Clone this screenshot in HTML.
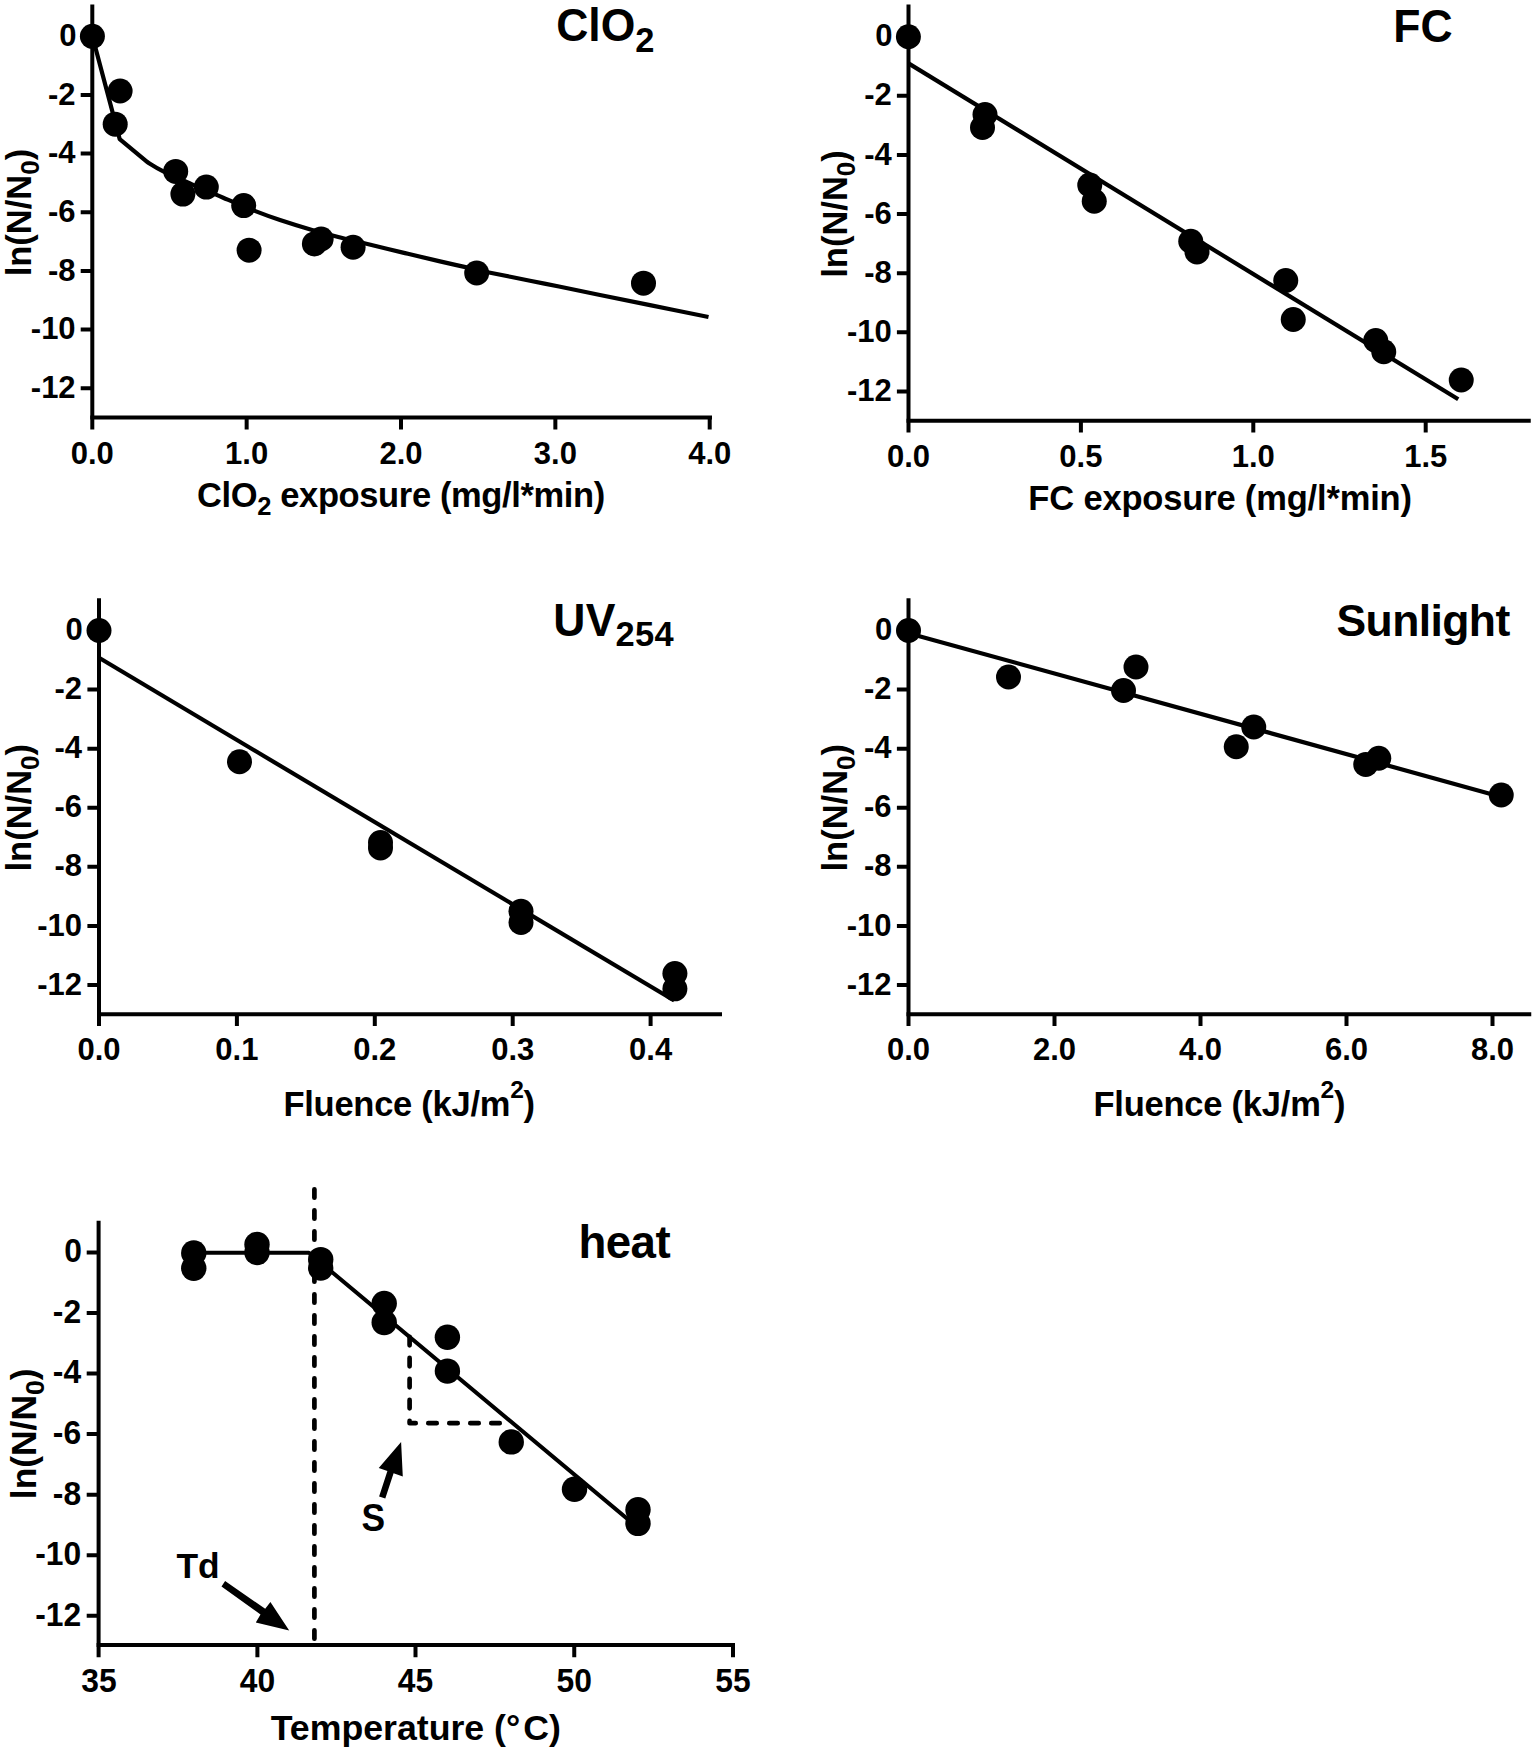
<!DOCTYPE html>
<html lang="en"><head><meta charset="utf-8"><title>Inactivation kinetics</title>
<style>html,body{margin:0;padding:0;background:#fff}svg{display:block}text{font-family:"Liberation Sans", Arial, Helvetica, sans-serif;font-weight:bold;fill:#000}.ax{stroke:#000;stroke-width:4;fill:none;stroke-linecap:butt}.fit{stroke:#000;stroke-width:4.2;fill:none;stroke-linejoin:round}.dash{stroke:#000;stroke-width:4.7;fill:none;stroke-linecap:round;stroke-linejoin:round;stroke-dasharray:8.4 12.6}.pt{fill:#000}</style></head><body>
<svg width="1536" height="1753" viewBox="0 0 1536 1753">
<rect width="1536" height="1753" fill="#fff"/>
<g id="p1">
<path class="ax" d="M92.3 4.5 V429.4"/>
<path class="ax" d="M90.3 417.6 H712"/>
<path class="ax" d="M80.7 36.3 H92.3M80.7 94.96 H92.3M80.7 153.62 H92.3M80.7 212.28 H92.3M80.7 270.94 H92.3M80.7 329.6 H92.3M80.7 388.26 H92.3M246.65 417.6 V429.4M401 417.6 V429.4M555.35 417.6 V429.4M709.7 417.6 V429.4"/>
<g font-size="31" text-anchor="end">
<text transform="translate(76.4 45.9) scale(1 1.04)">0</text>
<text transform="translate(75.6 104.56) scale(1 1.04)">-2</text>
<text transform="translate(75.6 163.22) scale(1 1.04)">-4</text>
<text transform="translate(75.6 221.88) scale(1 1.04)">-6</text>
<text transform="translate(75.6 280.54) scale(1 1.04)">-8</text>
<text transform="translate(75.6 339.2) scale(1 1.04)">-10</text>
<text transform="translate(75.6 397.86) scale(1 1.04)">-12</text>
</g>
<g font-size="31" text-anchor="middle">
<text transform="translate(92.3 463.7) scale(1 1.04)">0.0</text>
<text transform="translate(246.65 463.7) scale(1 1.04)">1.0</text>
<text transform="translate(401 463.7) scale(1 1.04)">2.0</text>
<text transform="translate(555.35 463.7) scale(1 1.04)">3.0</text>
<text transform="translate(709.7 463.7) scale(1 1.04)">4.0</text>
</g>
<text font-size="44.5" letter-spacing="0" transform="translate(556.2 41.3) scale(1 1.035)">ClO<tspan font-size="34.5" dy="10">2</tspan></text>
<text font-size="34.5" letter-spacing="-0.37" text-anchor="middle" x="400.95" y="506.7">ClO<tspan font-size="25.5" dy="8">2</tspan><tspan dy="-8"> exposure (mg/l*min)</tspan></text>
<text font-size="34.5" text-anchor="middle" transform="translate(30.7 212.6) rotate(-90)">ln(N/N<tspan font-size="26" dy="8">0</tspan><tspan dy="-8">)</tspan></text>
<path class="fit" d="M92.4 36.3 L119.7 139.1 L147.1 161.9 C149.8 163.48 155.82 167.67 163.3 171.4 C170.78 175.13 182.02 179.92 192 184.3 C201.98 188.68 212.63 193.23 223.2 197.7 C233.77 202.17 245.93 207.38 255.4 211.1 C264.87 214.82 270.69 216.9 280 220 C289.31 223.1 301.53 226.87 311.25 229.7 C320.97 232.53 329.28 234.7 338.3 237 C347.32 239.3 354.28 240.82 365.4 243.5 C376.52 246.18 392.57 250.12 405 253.1 C417.43 256.08 430.1 259.1 440 261.4 C449.9 263.7 456.23 265.05 464.4 266.9 C472.57 268.75 478.07 270.2 489 272.5 C499.93 274.8 518.33 278.37 530 280.7 C541.67 283.03 547.33 284.12 559 286.5 C570.67 288.88 584.83 291.9 600 295 C615.17 298.1 631.92 301.43 650 305.1 C668.08 308.77 698.75 315.02 708.5 317"/>
<g class="pt"><circle cx="92.4" cy="36.3" r="12.5"/><circle cx="120.1" cy="91" r="12.5"/><circle cx="115.2" cy="124.2" r="12.5"/><circle cx="175.7" cy="171.4" r="12.5"/><circle cx="182.9" cy="194.1" r="12.5"/><circle cx="206.3" cy="187.1" r="12.5"/><circle cx="243.7" cy="205.6" r="12.5"/><circle cx="249.1" cy="250.2" r="12.5"/><circle cx="314.4" cy="243.9" r="12.5"/><circle cx="321.15" cy="239" r="12.5"/><circle cx="353.1" cy="247.25" r="12.5"/><circle cx="476.7" cy="273" r="12.5"/><circle cx="643.5" cy="283.2" r="12.5"/></g>
</g>
<g id="p2">
<path class="ax" d="M908.5 4.5 V432.6"/>
<path class="ax" d="M906.5 420.8 H1530.75"/>
<path class="ax" d="M896.9 36.75 H908.5M896.9 95.87 H908.5M896.9 154.99 H908.5M896.9 214.11 H908.5M896.9 273.23 H908.5M896.9 332.35 H908.5M896.9 391.47 H908.5M1080.9 420.8 V432.6M1253.3 420.8 V432.6M1425.7 420.8 V432.6"/>
<g font-size="31" text-anchor="end">
<text transform="translate(892.6 46.35) scale(1 1.04)">0</text>
<text transform="translate(891.8 105.47) scale(1 1.04)">-2</text>
<text transform="translate(891.8 164.59) scale(1 1.04)">-4</text>
<text transform="translate(891.8 223.71) scale(1 1.04)">-6</text>
<text transform="translate(891.8 282.83) scale(1 1.04)">-8</text>
<text transform="translate(891.8 341.95) scale(1 1.04)">-10</text>
<text transform="translate(891.8 401.07) scale(1 1.04)">-12</text>
</g>
<g font-size="31" text-anchor="middle">
<text transform="translate(908.5 466.9) scale(1 1.04)">0.0</text>
<text transform="translate(1080.9 466.9) scale(1 1.04)">0.5</text>
<text transform="translate(1253.3 466.9) scale(1 1.04)">1.0</text>
<text transform="translate(1425.7 466.9) scale(1 1.04)">1.5</text>
</g>
<text font-size="44.5" letter-spacing="0" transform="translate(1393.3 42) scale(1 1.035)">FC</text>
<text font-size="34.5" letter-spacing="-0.17" text-anchor="middle" x="1220.1" y="509.9">FC exposure (mg/l*min)</text>
<text font-size="34.5" text-anchor="middle" transform="translate(846.85 214) rotate(-90)">ln(N/N<tspan font-size="26" dy="8">0</tspan><tspan dy="-8">)</tspan></text>
<path class="fit" d="M908.5 63.4 L1458.25 399.25"/>
<g class="pt"><circle cx="908.4" cy="36.75" r="12.5"/><circle cx="985" cy="114.5" r="12.5"/><circle cx="982.5" cy="127.5" r="12.5"/><circle cx="1089.75" cy="185" r="12.5"/><circle cx="1094.25" cy="201.25" r="12.5"/><circle cx="1190.75" cy="241.25" r="12.5"/><circle cx="1197" cy="252" r="12.5"/><circle cx="1285.75" cy="280.5" r="12.5"/><circle cx="1293.25" cy="319.5" r="12.5"/><circle cx="1375.75" cy="340.5" r="12.5"/><circle cx="1383.75" cy="351.75" r="12.5"/><circle cx="1461.25" cy="380" r="12.5"/></g>
</g>
<g id="p3">
<path class="ax" d="M99 598.25 V1026.05"/>
<path class="ax" d="M97 1014.25 H722"/>
<path class="ax" d="M87.4 630.5 H99M87.4 689.58 H99M87.4 748.66 H99M87.4 807.74 H99M87.4 866.82 H99M87.4 925.9 H99M87.4 984.98 H99M236.9 1014.25 V1026.05M374.8 1014.25 V1026.05M512.7 1014.25 V1026.05M650.6 1014.25 V1026.05"/>
<g font-size="31" text-anchor="end">
<text transform="translate(82.8 640.1) scale(1 1.04)">0</text>
<text transform="translate(82 699.18) scale(1 1.04)">-2</text>
<text transform="translate(82 758.26) scale(1 1.04)">-4</text>
<text transform="translate(82 817.34) scale(1 1.04)">-6</text>
<text transform="translate(82 876.42) scale(1 1.04)">-8</text>
<text transform="translate(82 935.5) scale(1 1.04)">-10</text>
<text transform="translate(82 994.58) scale(1 1.04)">-12</text>
</g>
<g font-size="31" text-anchor="middle">
<text transform="translate(99 1060.35) scale(1 1.04)">0.0</text>
<text transform="translate(236.9 1060.35) scale(1 1.04)">0.1</text>
<text transform="translate(374.8 1060.35) scale(1 1.04)">0.2</text>
<text transform="translate(512.7 1060.35) scale(1 1.04)">0.3</text>
<text transform="translate(650.6 1060.35) scale(1 1.04)">0.4</text>
</g>
<text font-size="44.5" letter-spacing="0.25" transform="translate(553.3 635.5) scale(1 1.035)">UV<tspan font-size="34.5" dy="10.25">254</tspan></text>
<text font-size="34.5" letter-spacing="-0.26" text-anchor="middle" x="409.15" y="1116.1">Fluence (kJ/m<tspan font-size="24.6" dy="-18">2</tspan><tspan dy="18">)</tspan></text>
<text font-size="34.5" text-anchor="middle" transform="translate(31 807.75) rotate(-90)">ln(N/N<tspan font-size="26" dy="8">0</tspan><tspan dy="-8">)</tspan></text>
<path class="fit" d="M99 657.8 L674.2 1000.5"/>
<g class="pt"><circle cx="99" cy="630.5" r="12.5"/><circle cx="239.5" cy="761.75" r="12.5"/><circle cx="380.5" cy="842.5" r="12.5"/><circle cx="380.5" cy="848" r="12.5"/><circle cx="521" cy="911.25" r="12.5"/><circle cx="521" cy="922.5" r="12.5"/><circle cx="674.9" cy="973.5" r="12.5"/><circle cx="674.9" cy="988.8" r="12.5"/></g>
</g>
<g id="p4">
<path class="ax" d="M908.5 598.25 V1026.05"/>
<path class="ax" d="M906.5 1014.25 H1531.25"/>
<path class="ax" d="M896.9 630.5 H908.5M896.9 689.58 H908.5M896.9 748.66 H908.5M896.9 807.74 H908.5M896.9 866.82 H908.5M896.9 925.9 H908.5M896.9 984.98 H908.5M1054.5 1014.25 V1026.05M1200.5 1014.25 V1026.05M1346.5 1014.25 V1026.05M1492.5 1014.25 V1026.05"/>
<g font-size="31" text-anchor="end">
<text transform="translate(892.3 640.1) scale(1 1.04)">0</text>
<text transform="translate(891.5 699.18) scale(1 1.04)">-2</text>
<text transform="translate(891.5 758.26) scale(1 1.04)">-4</text>
<text transform="translate(891.5 817.34) scale(1 1.04)">-6</text>
<text transform="translate(891.5 876.42) scale(1 1.04)">-8</text>
<text transform="translate(891.5 935.5) scale(1 1.04)">-10</text>
<text transform="translate(891.5 994.58) scale(1 1.04)">-12</text>
</g>
<g font-size="31" text-anchor="middle">
<text transform="translate(908.5 1060.35) scale(1 1.04)">0.0</text>
<text transform="translate(1054.5 1060.35) scale(1 1.04)">2.0</text>
<text transform="translate(1200.5 1060.35) scale(1 1.04)">4.0</text>
<text transform="translate(1346.5 1060.35) scale(1 1.04)">6.0</text>
<text transform="translate(1492.5 1060.35) scale(1 1.04)">8.0</text>
</g>
<text font-size="44.5" letter-spacing="-0.6" transform="translate(1336.5 635.5)">Sunlight</text>
<text font-size="34.5" letter-spacing="-0.23" text-anchor="middle" x="1219.4" y="1116.1">Fluence (kJ/m<tspan font-size="24.6" dy="-18">2</tspan><tspan dy="18">)</tspan></text>
<text font-size="34.5" text-anchor="middle" transform="translate(846.85 807.75) rotate(-90)">ln(N/N<tspan font-size="26" dy="8">0</tspan><tspan dy="-8">)</tspan></text>
<path class="fit" d="M908.5 633.2 L1501.5 796.9"/>
<g class="pt"><circle cx="908.5" cy="630.5" r="12.5"/><circle cx="1008.5" cy="677" r="12.5"/><circle cx="1123.5" cy="690.5" r="12.5"/><circle cx="1136" cy="667" r="12.5"/><circle cx="1253.75" cy="727" r="12.5"/><circle cx="1236.25" cy="746.75" r="12.5"/><circle cx="1365.75" cy="764.5" r="12.5"/><circle cx="1378.75" cy="758.25" r="12.5"/><circle cx="1501.25" cy="795" r="12.5"/></g>
</g>
<g id="p5">
<path class="ax" d="M98.6 1220.75 V1657.15"/>
<path class="ax" d="M96.6 1645.1 H735"/>
<path class="ax" d="M86.7 1252.5 H98.6M86.7 1313.04 H98.6M86.7 1373.58 H98.6M86.7 1434.12 H98.6M86.7 1494.66 H98.6M86.7 1555.2 H98.6M86.7 1615.74 H98.6M257.4 1645.1 V1657.15M415.5 1645.1 V1657.15M574.25 1645.1 V1657.15M733 1645.1 V1657.15"/>
<g font-size="31.81" text-anchor="end">
<text transform="translate(81.93 1262.35) scale(1 1.04)">0</text>
<text transform="translate(81.13 1322.89) scale(1 1.04)">-2</text>
<text transform="translate(81.13 1383.43) scale(1 1.04)">-4</text>
<text transform="translate(81.13 1443.97) scale(1 1.04)">-6</text>
<text transform="translate(81.13 1504.51) scale(1 1.04)">-8</text>
<text transform="translate(81.13 1565.05) scale(1 1.04)">-10</text>
<text transform="translate(81.13 1625.59) scale(1 1.04)">-12</text>
</g>
<g font-size="31.81" text-anchor="middle">
<text transform="translate(99 1692.4) scale(1 1.04)">35</text>
<text transform="translate(257.4 1692.4) scale(1 1.04)">40</text>
<text transform="translate(415.5 1692.4) scale(1 1.04)">45</text>
<text transform="translate(574.25 1692.4) scale(1 1.04)">50</text>
<text transform="translate(733 1692.4) scale(1 1.04)">55</text>
</g>
<text font-size="45.66" letter-spacing="-0.58" transform="translate(578.5 1258)">heat</text>
<text font-size="35.7" letter-spacing="0" text-anchor="middle" x="415.8" y="1739.6">Temperature (°<tspan dx="3">C)</tspan></text>
<text font-size="35.4" text-anchor="middle" transform="translate(35.7 1433.8) rotate(-90)">ln(N/N<tspan font-size="26.68" dy="8.21">0</tspan><tspan dy="-8.21">)</tspan></text>
<path class="dash" d="M314.4 1189.3 V1651.3"/>
<path class="dash" d="M409.6 1336.9 V1423.2 H505"/>
<path class="fit" style="stroke-width:4" d="M193.75 1252.8 H308.9 L636 1526.1"/>
<g class="pt"><circle cx="193.75" cy="1253" r="12.7"/><circle cx="193.75" cy="1268.25" r="12.7"/><circle cx="257" cy="1244.5" r="12.7"/><circle cx="257" cy="1252.5" r="12.7"/><circle cx="320.7" cy="1259.6" r="12.7"/><circle cx="320.7" cy="1268.1" r="12.7"/><circle cx="384.2" cy="1303.4" r="12.7"/><circle cx="384.2" cy="1322.6" r="12.7"/><circle cx="447.4" cy="1337.3" r="12.7"/><circle cx="447.4" cy="1371.1" r="12.7"/><circle cx="511.25" cy="1441.9" r="12.7"/><circle cx="574.5" cy="1489.2" r="12.7"/><circle cx="638" cy="1509.7" r="12.7"/><circle cx="638" cy="1523.4" r="12.7"/></g>
<polygon class="pt" points="225.1,1581.1 265.2,1608.75 270.4,1602 289.2,1630.4 255.8,1622.6 260.5,1614.5 221.5,1586.4"/>
<polygon class="pt" points="379.1,1496.4 387.4,1471 378.75,1468.1 401.1,1442.1 402.8,1476.6 393.6,1473.3 385.3,1498.4"/>
<text font-size="35.4" x="176.5" y="1577.5">Td</text>
<text font-size="35.4" transform="translate(361.5 1531.3) scale(1 1.07)">S</text>
</g>
</svg></body></html>
